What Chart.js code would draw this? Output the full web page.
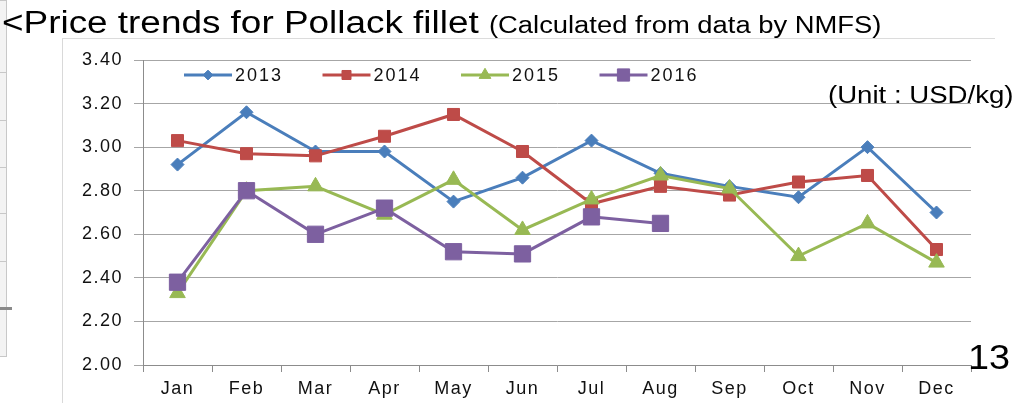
<!DOCTYPE html>
<html>
<head>
<meta charset="utf-8">
<script src="https://cdn.jsdelivr.net/npm/chart.js@4.4.1/dist/chart.umd.min.js"></script>
<style>
  html, body { margin: 0; padding: 0; background: #fff; overflow: hidden; }
  #wrap { position: relative; width: 1019px; height: 403px; font-family: "Liberation Sans", Arial, sans-serif; color: #000; }
  #wrap canvas { position: absolute; left: 0; top: 0; }
  .txt { position: absolute; white-space: nowrap; transform-origin: 0 0; line-height: 1; }
  /* slide leftovers around the chart */
  #frameL { position: absolute; left: 62px; top: 38px; width: 1px; height: 365px; background: #d9d9d9; }
  #frameT { position: absolute; left: 62px; top: 38px; width: 933px; height: 1px; background: #dcdcdc; }
  #sideBox { position: absolute; left: -1px; top: 0; width: 6px; height: 355px; background: #f3f3f3; border: 1px solid #c8c8c8; }
  .sideRule { position: absolute; left: 0; width: 6px; height: 1px; background: #c8c8c8; }
  #sideBar { position: absolute; left: 0; top: 307px; width: 12px; height: 3px; background: #8a8a8a; }
</style>
</head>
<body>
<div id="wrap">
  <div id="sideBox"></div>
  <div class="sideRule" style="top:72px"></div>
  <div class="sideRule" style="top:120px"></div>
  <div class="sideRule" style="top:167px"></div>
  <div class="sideRule" style="top:213px"></div>
  <div class="sideRule" style="top:261px"></div>
  <div id="sideBar"></div>
  <div id="frameL"></div>
  <div id="frameT"></div>
  <canvas id="priceChart" width="1019" height="403"></canvas>
  <div class="txt" style="left:2px; top:7px; font-size:31px; transform:scaleX(1.19);">&lt;Price trends for Pollack fillet <span style="font-size:23px;">(Calculated from data by NMFS)</span></div>
  <div class="txt" style="left:828px; top:84px; font-size:23px; transform:scaleX(1.2);">(Unit : USD/kg)</div>
  <div class="txt" style="left:968px; top:339px; font-size:35px; transform:scaleX(1.08);">13</div>
</div>
<script>
// ---- data (USD/kg) ----
const MONTHS = ['Jan', 'Feb', 'Mar', 'Apr', 'May', 'Jun', 'Jul', 'Aug', 'Sep', 'Oct', 'Nov', 'Dec'];
const Y_2013 = [2.92, 3.16, 2.98, 2.98, 2.75, 2.86, 3.03, 2.88, 2.82, 2.77, 3.00, 2.70];
const Y_2014 = [3.03, 2.97, 2.96, 3.05, 3.15, 2.98, 2.74, 2.82, 2.78, 2.84, 2.87, 2.53];
const Y_2015 = [2.33, 2.80, 2.82, 2.69, 2.85, 2.62, 2.76, 2.87, 2.81, 2.50, 2.65, 2.47];
const Y_2016 = [2.38, 2.80, 2.60, 2.72, 2.52, 2.51, 2.68, 2.65];
const Y_MIN = 2.0, Y_MAX = 3.4, Y_STEP = 0.2;

const COLORS = {
  blue:   '#4a7ebb',
  red:    '#be4b48',
  green:  '#98b954',
  purple: '#7d60a0',
};
const gridColor = '#a6a6a6';
const axisColor = '#8c8c8c';
const labelFont = { family: "'Liberation Sans', Arial, sans-serif", size: 18 };

function series(label, data, color, pointStyle, radius, order) {
  return {
    label, data, order,
    borderColor: color,
    backgroundColor: color,
    borderWidth: 3,
    pointStyle,
    pointRadius: radius,
    pointHoverRadius: radius,
    pointBorderWidth: 1,
    pointBorderColor: color,
    pointBackgroundColor: color,
    tension: 0,
    fill: false,
  };
}

// text in the source is a bit wide; spread glyphs a little
const wideText = {
  id: 'wideText',
  beforeDraw(chart) { chart.ctx.letterSpacing = '1.5px'; }
};

// legend sits inside the plot, line + marker + label
const innerLegend = {
  id: 'innerLegend',
  afterDraw(chart) {
    const ctx = chart.ctx;
    const y = 75, x0 = 184, gap = 138.5, lineLen = 48;
    ctx.save();
    ctx.font = "18px 'Liberation Sans', Arial, sans-serif";
    ctx.letterSpacing = '2px';
    ctx.textBaseline = 'middle';
    ctx.textAlign = 'left';
    chart.data.datasets.forEach((ds, i) => {
      const x = x0 + i * gap;
      ctx.strokeStyle = ds.borderColor;
      ctx.lineWidth = 3;
      ctx.beginPath();
      ctx.moveTo(x, y);
      ctx.lineTo(x + lineLen, y);
      ctx.stroke();
      ctx.fillStyle = ds.borderColor;
      ctx.lineWidth = 1;
      Chart.helpers.drawPoint(ctx, { pointStyle: ds.pointStyle, radius: ds.pointRadius * 0.75, rotation: 0, borderWidth: 1 }, x + lineLen / 2, y);
      ctx.fillStyle = '#111';
      ctx.fillText(ds.label, x + lineLen + 3, y + 1);
    });
    ctx.restore();
  }
};

new Chart(document.getElementById('priceChart'), {
  type: 'line',
  data: {
    labels: MONTHS,
    datasets: [
      series('2013', Y_2013, COLORS.blue,   'rectRot',  6.5, 3),
      series('2014', Y_2014, COLORS.red,    'rect',     8.5, 2),
      series('2015', Y_2015, COLORS.green,  'triangle', 9, 1),
      series('2016', Y_2016, COLORS.purple, 'rect',     11.5, 0),
    ]
  },
  options: {
    responsive: false,
    animation: false,
    layout: { padding: { left: 0, top: 60, right: 48, bottom: 0 } },
    plugins: {
      legend: { display: false },
      tooltip: { enabled: false },
    },
    scales: {
      x: {
        offset: true,
        grid: { drawOnChartArea: false, drawTicks: true, tickLength: 7, color: axisColor, offset: true },
        border: { color: axisColor, width: 1 },
        ticks: { color: '#111', font: labelFont, padding: 6, maxRotation: 0, autoSkip: false },
        afterFit: s => { s.height = 38; },
      },
      y: {
        min: Y_MIN, max: Y_MAX,
        grid: { color: gridColor, tickLength: 9, drawTicks: true },
        border: { color: axisColor, width: 1 },
        ticks: { stepSize: Y_STEP, color: '#111', font: labelFont, padding: 11, callback: v => v.toFixed(2) },
        afterFit: s => { s.width = 143; },
      }
    }
  },
  plugins: [wideText, innerLegend]
});
</script>
</body>
</html>
